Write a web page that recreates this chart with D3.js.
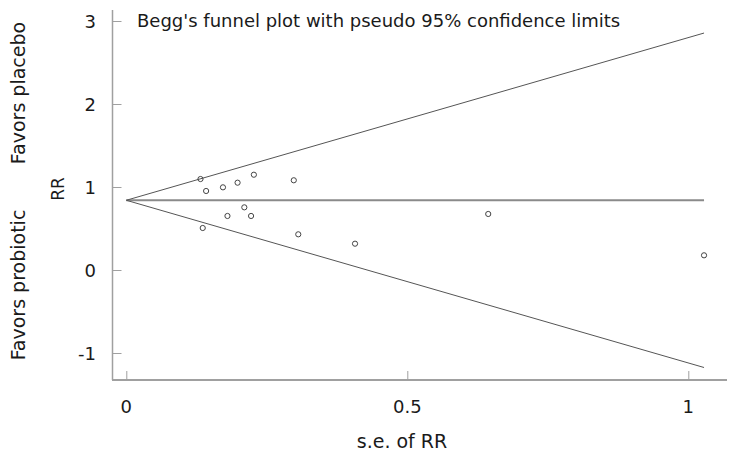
<!DOCTYPE html>
<html><head><meta charset="utf-8">
<script src="https://cdn.jsdelivr.net/npm/d3@7"></script>
<style>body{margin:0;background:#fff}text{font-family:"DejaVu Sans",Verdana,sans-serif;fill:#1a1a1a}</style>
</head><body><svg id="c" width="738" height="457"></svg>
<script>
const seValues = [0.132,0.142,0.172,0.198,0.227,0.298,0.210,0.180,0.222,0.136,0.306,0.407,0.644,1.028];
const rrValues = [1.096,0.952,0.996,1.052,1.148,1.081,0.755,0.651,0.651,0.506,0.430,0.317,0.675,0.177];
const pooled = 0.84;
const maxSe = 1.028;
const xTicks = [0,0.5,1];
const yTicks = [-1,0,1,2,3];
const title = "Begg's funnel plot with pseudo 95% confidence limits";

const svg = d3.select("#c");
const x = d3.scaleLinear().domain([0,1]).range([126.3,688.3]);
const y = d3.scaleLinear().domain([0,1]).range([270,187]);
const axisCol = "#a0a0a0";

const xAxis = d3.axisBottom(x).tickValues(xTicks).tickSize(-9).tickFormat("");
const gx = svg.append("g").attr("transform","translate(0,380)").call(xAxis);
gx.select(".domain").attr("d","M112,0H727").attr("stroke",axisCol).attr("stroke-width",2);
gx.selectAll(".tick line").attr("stroke",axisCol);
const yAxis = d3.axisLeft(y).tickValues(yTicks).tickSize(-9).tickFormat("");
const gy = svg.append("g").attr("transform","translate(112.5,0)").call(yAxis);
gy.select(".domain").attr("d","M0,10V380").attr("stroke",axisCol).attr("stroke-width",1.5);
gy.selectAll(".tick line").attr("stroke",axisCol);

svg.selectAll(".yl").data(yTicks).enter().append("text")
  .attr("x",96).attr("y",d=>y(d)+6.5).attr("text-anchor","end")
  .style("font-size","18px").text(d=>d);
svg.selectAll(".xl").data(xTicks).enter().append("text")
  .attr("x",d=>x(d)).attr("y",413).attr("text-anchor","middle")
  .style("font-size","18px").text(d=>d);

svg.append("text").attr("x",402).attr("y",448).attr("text-anchor","middle")
  .style("font-size","19px").text("s.e. of RR");
svg.append("text").attr("transform","translate(64,189) rotate(-90)").attr("text-anchor","middle")
  .style("font-size","17px").text("RR");
svg.append("text").attr("transform","translate(25,93) rotate(-90)").attr("text-anchor","middle")
  .style("font-size","19px").text("Favors placebo");
svg.append("text").attr("transform","translate(25,285) rotate(-90)").attr("text-anchor","middle")
  .style("font-size","19px").text("Favors probiotic");
svg.append("text").attr("x",137).attr("y",27).style("font-size","18px").text(title);

const line = d3.line().x(d=>x(d[0])).y(d=>y(d[1]));
svg.append("path").attr("d",line([[0,pooled],[maxSe,pooled]])).attr("stroke","#8a8a8a").attr("stroke-width",2).attr("fill","none");
svg.append("path").attr("d",line([[0,pooled],[maxSe,pooled+1.96*maxSe]])).attr("stroke","#555").attr("stroke-width",1).attr("fill","none");
svg.append("path").attr("d",line([[0,pooled],[maxSe,pooled-1.96*maxSe]])).attr("stroke","#555").attr("stroke-width",1).attr("fill","none");

svg.selectAll(".pt").data(seValues.map((s,i)=>[s,rrValues[i]])).enter().append("circle")
  .attr("cx",d=>x(d[0])).attr("cy",d=>y(d[1])).attr("r",2.6)
  .attr("fill","none").attr("stroke","#444").attr("stroke-width",1);
</script></body></html>
